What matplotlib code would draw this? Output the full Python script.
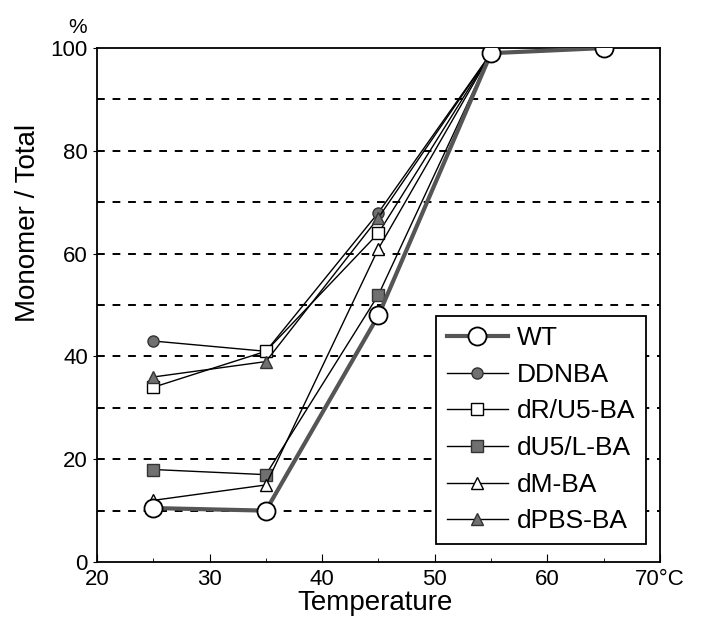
import matplotlib
matplotlib.use("Agg")
import matplotlib.pyplot as plt
from matplotlib.ticker import MultipleLocator

plt.rcParams['font.family'] = ['Liberation Sans', 'DejaVu Sans']

temps = [25, 35, 45, 55, 65]
wt = [10.5, 10, 48, 99, 100]
ddnba = [43, 41, 68, 99]
dr_u5 = [34, 41, 64, 99]
du5_l = [18, 17, 52, 99]
dm = [12, 15, 61, 99]
dpbs = [36, 39, 67, 99]

fig = plt.figure(figsize=(7.01, 6.2), dpi=100)
ax = fig.add_axes([0.1384, 0.0935, 0.803, 0.829])

# dashed grid lines every 10
for y in range(10, 100, 10):
    ax.axhline(y, color='black', lw=1.4, ls=(0, (4, 4)), zorder=1)

grey = '#707070'
ax.plot(temps[:4], ddnba, '-o', color='black', lw=1, mfc=grey, mec='#333333', ms=8, label='DDNBA', zorder=3)
ax.plot(temps[:4], dr_u5, '-s', color='black', lw=1, mfc='white', mec='black', ms=9, label='dR/U5-BA', zorder=3)
ax.plot(temps[:4], du5_l, '-s', color='black', lw=1, mfc=grey, mec='#333333', ms=9, label='dU5/L-BA', zorder=3)
ax.plot(temps[:4], dm, '-^', color='black', lw=1, mfc='white', mec='black', ms=9, label='dM-BA', zorder=3)
ax.plot(temps[:4], dpbs, '-^', color='black', lw=1, mfc=grey, mec='#333333', ms=9, label='dPBS-BA', zorder=3)
ax.plot(temps, wt, '-o', color='#555555', lw=3, mfc='white', mec='black', mew=1.3, ms=13, label='WT', zorder=4)

ax.set_xlim(20, 70)
ax.set_ylim(0, 100)
ax.xaxis.set_minor_locator(MultipleLocator(5))
ax.set_xticks([20, 30, 40, 50, 60, 70])
ax.set_xticklabels(['20', '30', '40', '50', '60', '70°C'])
ax.set_yticks([0, 20, 40, 60, 80, 100])
ax.tick_params(axis='x', direction='in', length=6, labelsize=16, pad=5)
ax.tick_params(axis='x', which='minor', direction='in', length=3)
ax.tick_params(axis='y', direction='out', length=3, labelsize=16)
for s in ax.spines.values():
    s.set_linewidth(1.3)

ax.set_xlabel('Temperature', fontsize=20)
ax.xaxis.set_label_coords(0.494, -0.055)
ax.xaxis.label.set_va('top')
ax.set_ylabel('Monomer / Total', fontsize=20)
ax.yaxis.set_label_coords(-0.1, 0.66)
fig.text(0.111, 0.955, '%', fontsize=15, ha='center', va='center')

handles, labels = ax.get_legend_handles_labels()
order = [5, 0, 1, 2, 3, 4]
leg = ax.legend([handles[i] for i in order], [labels[i] for i in order],
                loc='lower right', bbox_to_anchor=(0.975, 0.035), fontsize=19,
                frameon=True, fancybox=False, edgecolor='black', framealpha=1,
                handlelength=2.3, labelspacing=0.48, borderpad=0.4,
                handletextpad=0.35, borderaxespad=0)
leg.get_frame().set_linewidth(1.3)

fig.savefig('out.png', dpi=100)
